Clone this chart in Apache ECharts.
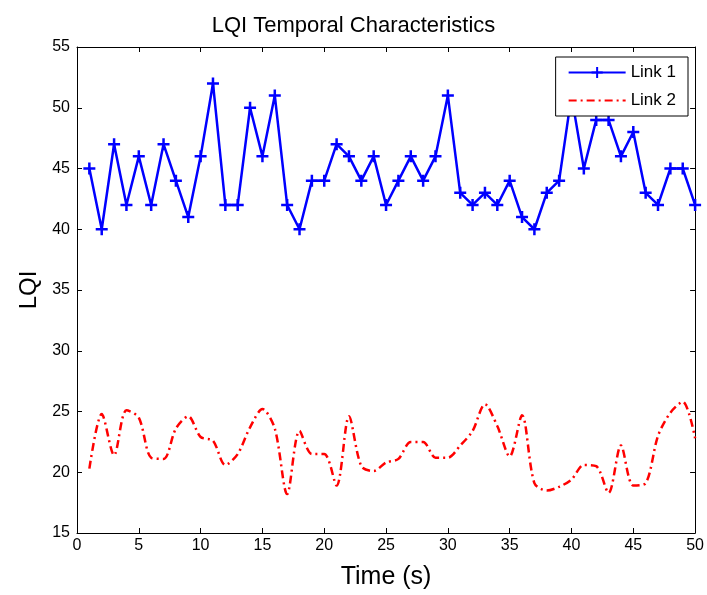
<!DOCTYPE html>
<html>
<head>
<meta charset="utf-8">
<script src="https://cdn.jsdelivr.net/npm/echarts@6/dist/echarts.min.js"></script>
<style>html,body{margin:0;padding:0;background:#fff}#c{width:707px;height:595px}</style>
</head>
<body>
<div id="c"></div>
<script>
const times = [1,2,3,4,5,6,7,8,9,10,11,12,13,14,15,16,17,18,19,20,21,22,23,24,25,26,27,28,29,30,31,32,33,34,35,36,37,38,39,40,41,42,43,44,45,46,47,48,49,50];
const link1 = [45,40,47,42,46,42,47,44,41,46,52,42,42,50,46,51,42,40,44,44,47,46,44,46,42,44,46,44,46,51,43,42,43,42,44,41,40,43,44,51,45,49,49,46,48,43,42,45,45,42];
const link2 = [20.3,24.8,21.4,25.1,24.5,21.2,21.1,23.6,24.6,22.9,22.6,20.6,21.5,23.7,25.2,23.6,18.2,23.4,21.5,21.5,18.9,24.6,20.5,20.1,20.8,21.1,22.5,22.5,21.2,21.2,22.2,23.4,25.6,23.8,21.3,24.7,19.1,18.5,18.8,19.4,20.6,20.5,18.3,22.2,18.9,19.1,23.0,24.9,25.8,22.8];
const xTicks = {min:0, max:50, interval:5};
const yTicks = {min:15, max:55, interval:5};
const seriesNames = ['Link 1','Link 2'];

const font = 'Liberation Sans, Arial, Helvetica, sans-serif';
const chart = echarts.init(document.getElementById('c'), null, {renderer:'canvas'});
const axisCommon = {
  axisLine:{show:true, onZero:false, lineStyle:{color:'#000', width:1}},
  axisTick:{show:true, inside:true, length:5, lineStyle:{color:'#000', width:1}},
  splitLine:{show:false}
};
const plus = 'path://M5,0 L5,10 M0,5 L10,5';
chart.setOption({
  animation:false,
  backgroundColor:'#fff',
  title:{text:'LQI Temporal Characteristics', left:'center', top:10,
    textStyle:{fontFamily:font, fontSize:22, fontWeight:'normal', color:'#000'}},
  grid:{left:77, right:10, top:47, bottom:61, containLabel:false},
  legend:{
    right:19, top:57, orient:'vertical', itemWidth:57, itemHeight:14, itemGap:11,
    padding:[7,12,7,12],
    backgroundColor:'#fff', borderColor:'#000', borderWidth:1, borderRadius:0,
    textStyle:{fontFamily:font, fontSize:17, color:'#000'},
    data:[{name:seriesNames[0]}, {name:seriesNames[1], itemStyle:{opacity:0}}]
  },
  xAxis:[
    Object.assign({type:'value', min:xTicks.min, max:xTicks.max, interval:xTicks.interval, position:'bottom',
      name:'Time (s)', nameLocation:'middle', nameGap:32,
      nameTextStyle:{fontFamily:font, fontSize:25, color:'#000'},
      axisLabel:{fontFamily:font, fontSize:16, color:'#000', margin:5}}, axisCommon),
    Object.assign({type:'value', min:xTicks.min, max:xTicks.max, interval:xTicks.interval, position:'top',
      axisLabel:{show:false}}, axisCommon)
  ],
  yAxis:[
    Object.assign({type:'value', min:yTicks.min, max:yTicks.max, interval:yTicks.interval, position:'left',
      name:'LQI', nameLocation:'middle', nameGap:35, nameRotate:90,
      nameTextStyle:{fontFamily:font, fontSize:24, color:'#000'},
      axisLabel:{fontFamily:font, fontSize:16, color:'#000', margin:7}}, axisCommon),
    Object.assign({type:'value', min:yTicks.min, max:yTicks.max, interval:yTicks.interval, position:'right',
      axisLabel:{show:false}}, axisCommon)
  ],
  series:[
    {name:seriesNames[0], type:'line', xAxisIndex:0, yAxisIndex:0,
      data:times.map((t,i)=>[t, link1[i]]),
      symbol:plus, symbolSize:12, showSymbol:true,
      lineStyle:{color:'#0000ff', width:2.5},
      itemStyle:{color:'#0000ff', borderColor:'#0000ff', borderWidth:2.5},
      z:3},
    {name:seriesNames[1], type:'line', xAxisIndex:0, yAxisIndex:0,
      data:times.map((t,i)=>[t, link2[i]]),
      symbol:'none', smooth:0.3,
      lineStyle:{color:'#ff0000', width:2.5, type:[8,4,2,4]},
      itemStyle:{color:'#ff0000'},
      z:2}
  ]
});
</script>
</body>
</html>
